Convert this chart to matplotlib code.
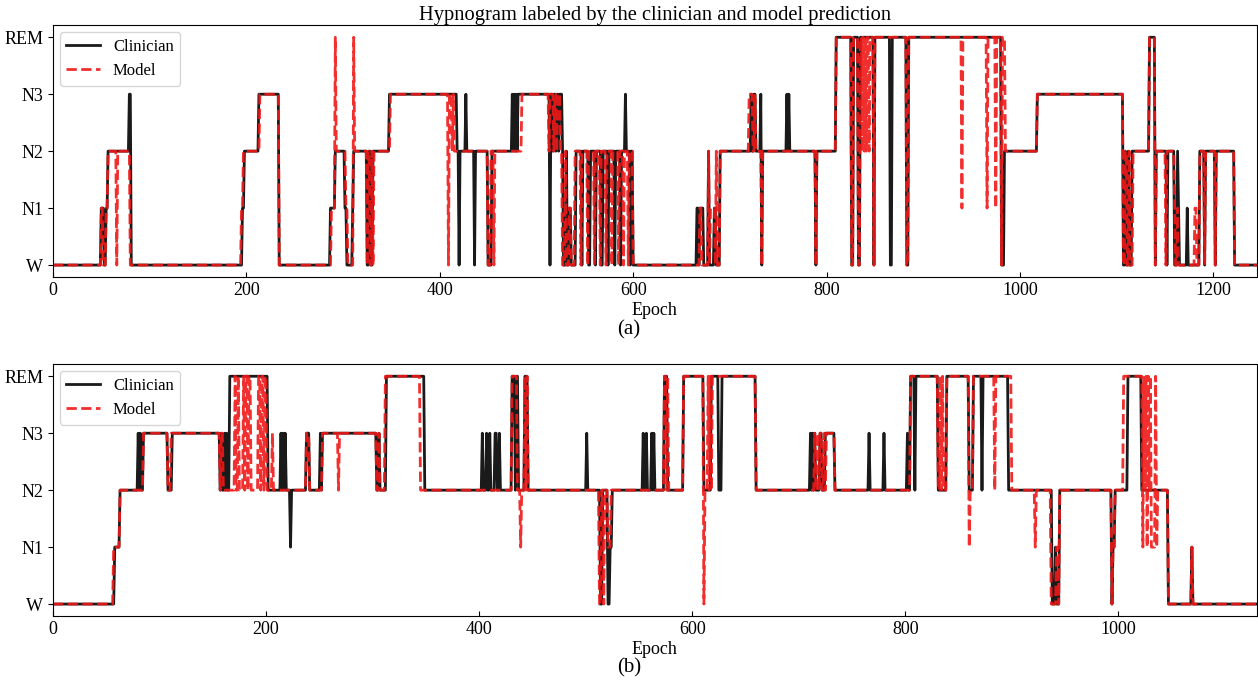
import numpy as np
import matplotlib
matplotlib.use('Agg')
import matplotlib.pyplot as plt

plt.rcParams['font.family'] = ['Liberation Serif', 'DejaVu Serif']
plt.rcParams['font.size'] = 13

# etapas del sueno: W=0, N1=1, N2=2, N3=3, REM=4
stage_labels = ['W', 'N1', 'N2', 'N3', 'REM']

# (a) cambios de etapa: (epoca de inicio, etapa)
n_a = 1246
clin_a = [(0, 0), (50, 1), (53, 0), (55, 1), (57, 2), (79, 3), (81, 0), (196, 1), (198, 2), (213, 3),
          (234, 0), (287, 1), (292, 2), (302, 1), (304, 0), (310, 1), (311, 2), (325, 0), (327, 2),
          (329, 0), (331, 2), (348, 3), (418, 2), (420, 0), (421, 2), (427, 3), (428, 2), (436, 0),
          (437, 2), (450, 0), (454, 2), (475, 3), (476, 2), (477, 3), (478, 2), (479, 3), (480, 2),
          (481, 3), (514, 0), (515, 3), (517, 2), (518, 3), (520, 2), (521, 3), (523, 2), (524, 3),
          (527, 2), (528, 0), (531, 2), (532, 0), (534, 1), (536, 0), (541, 2), (547, 0), (548, 2),
          (554, 0), (556, 2), (561, 0), (562, 2), (567, 0), (569, 2), (574, 0), (575, 2), (581, 0),
          (582, 2), (587, 0), (588, 2), (592, 3), (593, 2), (597, 0), (598, 2), (600, 0), (666, 1),
          (668, 0), (669, 1), (673, 0), (678, 2), (679, 0), (684, 1), (686, 0), (690, 2), (722, 3),
          (723, 2), (725, 3), (727, 2), (732, 3), (733, 0), (734, 2), (759, 3), (760, 2), (761, 3),
          (762, 2), (789, 0), (790, 2), (810, 4), (826, 0), (828, 4), (833, 0), (835, 4), (849, 0),
          (850, 4), (866, 0), (868, 4), (883, 0), (885, 4), (981, 0), (984, 2), (1018, 3), (1107, 0),
          (1109, 2), (1110, 0), (1112, 2), (1113, 0), (1116, 2), (1134, 4), (1140, 0), (1141, 2),
          (1152, 0), (1153, 2), (1160, 0), (1163, 2), (1164, 1), (1165, 0), (1173, 1), (1174, 0),
          (1186, 2), (1191, 0), (1192, 2), (1202, 0), (1203, 2), (1222, 0)]
model_a = [(0, 0), (50, 1), (52, 0), (55, 1), (57, 2), (66, 0), (67, 2), (80, 0), (195, 1), (197, 2),
           (214, 3), (234, 0), (288, 1), (292, 4), (293, 2), (303, 1), (305, 0), (311, 4), (312, 2),
           (325, 0), (326, 2), (328, 0), (330, 2), (331, 0), (332, 2), (349, 3), (409, 0), (410, 3),
           (413, 2), (414, 3), (415, 2), (450, 0), (453, 2), (456, 0), (457, 2), (485, 3), (513, 2),
           (514, 3), (518, 2), (519, 3), (521, 2), (522, 3), (525, 2), (527, 0), (530, 2), (531, 0),
           (534, 1), (536, 0), (540, 2), (546, 0), (547, 2), (553, 0), (554, 2), (560, 0), (561, 2),
           (566, 0), (567, 2), (572, 0), (573, 2), (578, 0), (579, 2), (585, 0), (586, 2), (590, 0),
           (591, 2), (595, 0), (596, 2), (600, 0), (669, 1), (671, 0), (678, 2), (679, 0), (680, 1),
           (685, 0), (686, 2), (687, 0), (690, 2), (720, 3), (724, 2), (726, 3), (727, 2), (733, 0),
           (734, 2), (789, 0), (790, 2), (810, 4), (826, 0), (828, 4), (833, 0), (835, 4), (837, 2),
           (838, 4), (839, 2), (840, 4), (841, 2), (842, 4), (844, 2), (845, 4), (849, 0), (850, 4),
           (883, 0), (885, 4), (940, 1), (941, 4), (966, 1), (967, 4), (975, 1), (976, 4), (981, 0),
           (982, 4), (985, 2), (1018, 3), (1107, 0), (1109, 2), (1111, 0), (1113, 2), (1114, 0),
           (1117, 2), (1134, 4), (1140, 0), (1141, 2), (1151, 0), (1152, 2), (1160, 1), (1161, 0),
           (1163, 1), (1164, 0), (1181, 1), (1183, 0), (1186, 2), (1191, 0), (1192, 2), (1202, 0),
           (1203, 2), (1222, 0)]

# (b)
n_b = 1131
clin_b = [(0, 0), (58, 1), (63, 2), (80, 3), (81, 2), (82, 3), (83, 2), (85, 3), (108, 2), (112, 3),
          (157, 2), (158, 3), (159, 2), (161, 3), (162, 2), (163, 3), (164, 2), (166, 4), (202, 2),
          (214, 3), (215, 2), (216, 3), (217, 2), (218, 3), (219, 2), (223, 1), (224, 2), (238, 3),
          (241, 2), (251, 3), (252, 2), (253, 3), (304, 2), (306, 3), (307, 2), (313, 4), (349, 2),
          (403, 3), (404, 2), (407, 3), (408, 2), (410, 3), (411, 2), (415, 3), (417, 2), (419, 3),
          (420, 2), (431, 4), (434, 2), (435, 4), (437, 2), (443, 4), (446, 2), (501, 3), (502, 2),
          (514, 0), (516, 2), (521, 0), (523, 1), (525, 2), (554, 3), (555, 2), (557, 3), (558, 2),
          (562, 3), (563, 2), (564, 3), (565, 2), (574, 4), (577, 2), (592, 4), (611, 2), (618, 4),
          (625, 2), (628, 4), (660, 2), (711, 3), (712, 2), (713, 3), (714, 2), (715, 3), (716, 2),
          (720, 3), (722, 2), (725, 3), (734, 2), (766, 3), (767, 2), (780, 3), (781, 2), (802, 3),
          (803, 2), (805, 4), (809, 2), (810, 4), (831, 2), (839, 4), (860, 2), (864, 4), (872, 2),
          (873, 4), (897, 2), (938, 0), (941, 1), (942, 0), (945, 2), (994, 0), (995, 1), (997, 2),
          (1009, 4), (1022, 2), (1047, 0), (1069, 1), (1070, 0)]
model_b = [(0, 0), (57, 1), (63, 2), (85, 3), (108, 2), (111, 3), (157, 2), (158, 3), (160, 2),
           (171, 4), (172, 2), (174, 4), (175, 2), (179, 4), (180, 2), (181, 4), (183, 2), (184, 4),
           (186, 2), (193, 4), (195, 2), (196, 4), (198, 2), (199, 4), (201, 2), (206, 3), (207, 2),
           (238, 3), (241, 2), (253, 3), (268, 2), (269, 3), (304, 2), (306, 3), (307, 2), (312, 4),
           (345, 2), (431, 4), (436, 2), (439, 1), (440, 2), (443, 4), (444, 2), (445, 4), (446, 2),
           (513, 0), (515, 2), (517, 0), (518, 2), (521, 1), (524, 2), (574, 4), (576, 2), (577, 4),
           (578, 2), (592, 4), (611, 0), (612, 2), (615, 4), (616, 2), (617, 4), (618, 2), (619, 4),
           (660, 2), (715, 3), (716, 2), (718, 3), (719, 2), (720, 3), (722, 2), (724, 3), (725, 2),
           (726, 3), (734, 2), (805, 4), (831, 2), (833, 4), (834, 2), (835, 4), (836, 2), (839, 4),
           (860, 1), (861, 2), (864, 4), (884, 2), (885, 4), (900, 2), (922, 1), (923, 2), (937, 0),
           (942, 1), (944, 0), (945, 2), (994, 0), (995, 1), (997, 2), (1005, 4), (1023, 1),
           (1024, 4), (1025, 2), (1026, 4), (1027, 1), (1028, 4), (1029, 2), (1030, 4), (1031, 1),
           (1035, 4), (1036, 1), (1037, 2), (1047, 0), (1069, 1), (1070, 0)]


# convierte la lista de cambios en un valor por epoca
def expand(points, n):
    y = np.zeros(n)
    ends = [p[0] for p in points[1:]] + [n]
    for (start, stage), end in zip(points, ends):
        y[start:end] = stage
    return y


def draw_panel(ax, clin, model, n):
    x = np.arange(n)
    ax.plot(x, expand(clin, n), color='#1a1a1a', lw=2, label='Clinician')
    ax.plot(x, expand(model, n), color='#f01818', ls='--', lw=2, alpha=0.9, label='Model')
    ax.set_xlim(0, n - 1)
    ax.set_ylim(-0.21, 4.21)
    ax.set_yticks(range(5))
    ax.set_yticklabels(stage_labels)
    ax.set_xlabel('Epoch', labelpad=2)
    ax.tick_params(axis='x', direction='in')
    ax.legend(loc='upper left', fontsize=12, borderaxespad=0.4)


fig = plt.figure(figsize=(12.58, 6.84), dpi=100)
ax1 = fig.add_axes([0.0421, 0.595, 0.957, 0.368])
ax2 = fig.add_axes([0.0421, 0.0994, 0.957, 0.368])

draw_panel(ax1, clin_a, model_a, n_a)
draw_panel(ax2, clin_b, model_b, n_b)
ax1.set_title('Hypnogram labeled by the clinician and model prediction', pad=4, fontsize=14.8)

fig.text(0.5, 0.5175, '(a)', ha='center', va='center', fontsize=15)
fig.text(0.5, 0.0234, '(b)', ha='center', va='center', fontsize=15)

plt.savefig('out.png', dpi=100)
plt.close()
